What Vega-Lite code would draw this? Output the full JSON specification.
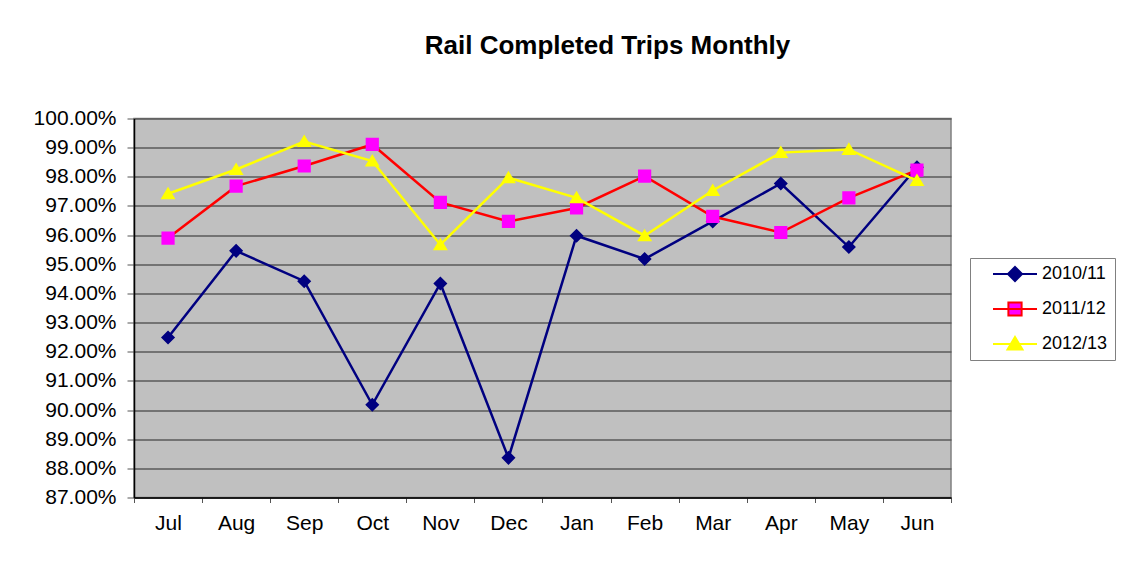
{
  "$schema": "https://vega.github.io/schema/vega-lite/v6.json",
  "width": 817,
  "height": 379,
  "autosize": "none",
  "padding": {"left": 134, "top": 118.5, "right": 182, "bottom": 66.5},
  "background": "white",
  "title": {
    "text": "Rail Completed Trips Monthly",
    "font": "Liberation Sans",
    "fontSize": 26,
    "fontWeight": "bold",
    "color": "black",
    "anchor": "middle",
    "dx": 65,
    "offset": 49
  },
  "data": {
    "values": [
      {"month": "Jul", "season": "2010/11", "value": 0.9249},
      {"month": "Aug", "season": "2010/11", "value": 0.9546},
      {"month": "Sep", "season": "2010/11", "value": 0.9442},
      {"month": "Oct", "season": "2010/11", "value": 0.9018},
      {"month": "Nov", "season": "2010/11", "value": 0.9434},
      {"month": "Dec", "season": "2010/11", "value": 0.8836},
      {"month": "Jan", "season": "2010/11", "value": 0.9598},
      {"month": "Feb", "season": "2010/11", "value": 0.9518},
      {"month": "Mar", "season": "2010/11", "value": 0.9647},
      {"month": "Apr", "season": "2010/11", "value": 0.9777},
      {"month": "May", "season": "2010/11", "value": 0.9559},
      {"month": "Jun", "season": "2010/11", "value": 0.9833},
      {"month": "Jul", "season": "2011/12", "value": 0.9590},
      {"month": "Aug", "season": "2011/12", "value": 0.9768},
      {"month": "Sep", "season": "2011/12", "value": 0.9837},
      {"month": "Oct", "season": "2011/12", "value": 0.9911},
      {"month": "Nov", "season": "2011/12", "value": 0.9712},
      {"month": "Dec", "season": "2011/12", "value": 0.9647},
      {"month": "Jan", "season": "2011/12", "value": 0.9693},
      {"month": "Feb", "season": "2011/12", "value": 0.9802},
      {"month": "Mar", "season": "2011/12", "value": 0.9664},
      {"month": "Apr", "season": "2011/12", "value": 0.9609},
      {"month": "May", "season": "2011/12", "value": 0.9728},
      {"month": "Jun", "season": "2011/12", "value": 0.9823},
      {"month": "Jul", "season": "2012/13", "value": 0.9742},
      {"month": "Aug", "season": "2012/13", "value": 0.9825},
      {"month": "Sep", "season": "2012/13", "value": 0.9921},
      {"month": "Oct", "season": "2012/13", "value": 0.9854},
      {"month": "Nov", "season": "2012/13", "value": 0.9567},
      {"month": "Dec", "season": "2012/13", "value": 0.9797},
      {"month": "Jan", "season": "2012/13", "value": 0.9728},
      {"month": "Feb", "season": "2012/13", "value": 0.9598},
      {"month": "Mar", "season": "2012/13", "value": 0.9753},
      {"month": "Apr", "season": "2012/13", "value": 0.9883},
      {"month": "May", "season": "2012/13", "value": 0.9894},
      {"month": "Jun", "season": "2012/13", "value": 0.9787}
    ]
  },
  "encoding": {
    "x": {
      "field": "month",
      "type": "nominal",
      "sort": ["Jul", "Aug", "Sep", "Oct", "Nov", "Dec", "Jan", "Feb", "Mar", "Apr", "May", "Jun"],
      "scale": {"type": "band", "paddingInner": 0, "paddingOuter": 0},
      "axis": {
        "title": null,
        "labelAngle": 0,
        "labelFont": "Liberation Sans",
        "labelFontSize": 21,
        "labelColor": "black",
        "labelPadding": 10,
        "tickBand": "extent",
        "tickSize": 5,
        "tickColor": "#555555",
        "domainColor": "black",
        "domainWidth": 1.5,
        "grid": false
      }
    },
    "y": {
      "field": "value",
      "type": "quantitative",
      "scale": {"domain": [0.87, 1.0], "zero": false, "nice": false},
      "axis": {
        "title": null,
        "format": ".2%",
        "values": [0.87, 0.88, 0.89, 0.90, 0.91, 0.92, 0.93, 0.94, 0.95, 0.96, 0.97, 0.98, 0.99, 1.0],
        "labelFont": "Liberation Sans",
        "labelFontSize": 21,
        "labelColor": "black",
        "labelPadding": 11,
        "tickSize": 7,
        "tickColor": "#555555",
        "domainColor": "black",
        "domainWidth": 1.5,
        "grid": true,
        "gridColor": "#5a5a5a",
        "gridWidth": 1.3
      }
    }
  },
  "layer": [
    {
      "mark": {"type": "line", "strokeWidth": 2.5},
      "encoding": {
        "stroke": {
          "field": "season",
          "type": "nominal",
          "scale": {"domain": ["2010/11", "2011/12", "2012/13"], "range": ["#000080", "#ff0000", "#ffff00"]},
          "legend": {
            "title": null,
            "orient": "none",
            "legendX": 836,
            "legendY": 139.5,
            "labelExpr": "datum.label + '\u00a0\u00a0\u00a0'"
          }
        }
      }
    },
    {
      "mark": {"type": "point", "filled": true, "size": 1936, "strokeWidth": 0, "opacity": 1},
      "encoding": {
        "fill": {
          "field": "season",
          "type": "nominal",
          "scale": {"domain": ["2010/11", "2011/12", "2012/13"], "range": ["#000080", "#ff00ff", "#ffff00"]},
          "legend": {
            "title": null,
            "orient": "none",
            "legendX": 836,
            "legendY": 139.5,
            "labelExpr": "datum.label + '\u00a0\u00a0\u00a0'"
          }
        },
        "shape": {
          "field": "season",
          "type": "nominal",
          "scale": {
            "domain": ["2010/11", "2011/12", "2012/13"],
            "range": [
              "M-1,0L1,0M0,-0.32L0.32,0L0,0.32L-0.32,0Z",
              "M-1,0L1,0M-0.3,-0.3L0.3,-0.3L0.3,0.3L-0.3,0.3Z",
              "M-1,0L1,0M0,-0.32L0.34,0.25L-0.34,0.25Z"
            ]
          },
          "legend": {
            "title": null,
            "orient": "none",
            "legendX": 836,
            "legendY": 139.5,
            "labelExpr": "datum.label + '\u00a0\u00a0\u00a0'",
            "encode": {
              "symbols": {
                "update": {
                  "stroke": {"signal": "scale('stroke', datum.value)"},
                  "fill": {"signal": "scale('fill', datum.value)"},
                  "strokeWidth": {"value": 2},
                  "opacity": {"value": 1}
                }
              }
            }
          }
        }
      }
    }
  ],
  "config": {
    "view": {"fill": "#c0c0c0", "stroke": "#808080", "strokeWidth": 1.5},
    "font": "Liberation Sans",
    "legend": {
      "symbolSize": 1936,
      "labelFont": "Liberation Sans",
      "labelFontSize": 18,
      "labelColor": "black",
      "labelOffset": 4,
      "fillColor": "white",
      "strokeColor": "#808080",
      "padding": 7,
      "clipHeight": 18,
      "rowPadding": 17,
      "symbolOffset": 15,
      "symbolStrokeWidth": 2
    }
  }
}
